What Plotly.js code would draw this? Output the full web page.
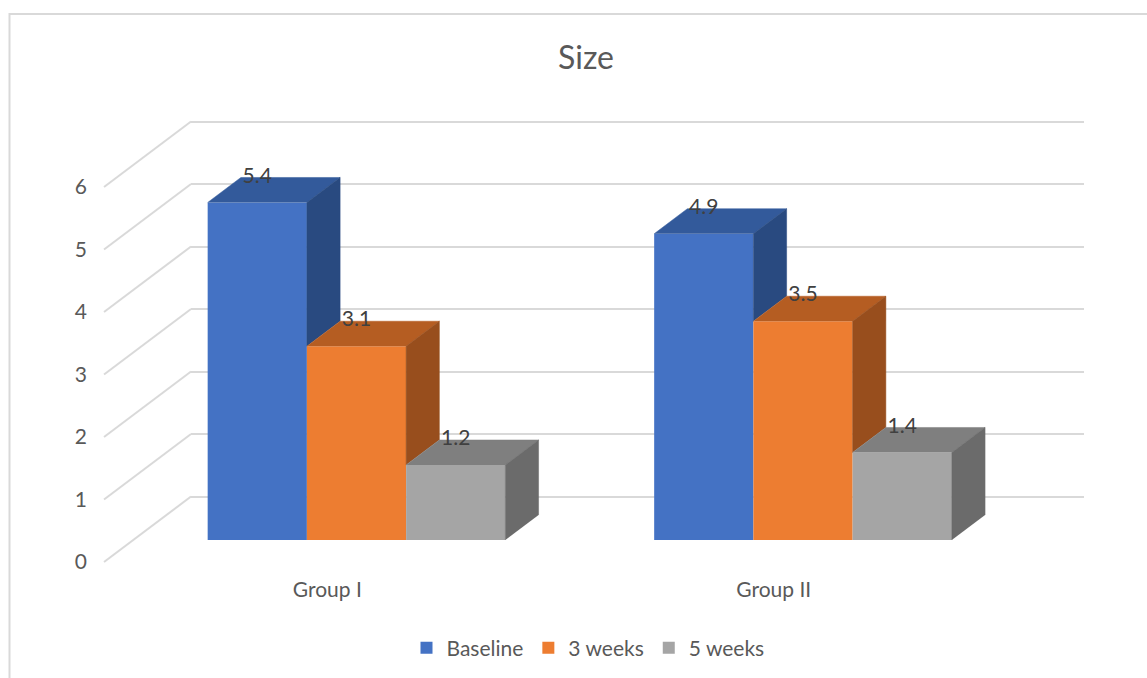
<!DOCTYPE html>
<html><head><meta charset="utf-8">
<script src="https://cdn.plot.ly/plotly-3.0.1.min.js"></script>
<style>html,body{margin:0;padding:0;background:#fff;}#chart{width:1147px;height:678px;}</style>
</head><body><div id="chart"></div>
<script>
// ---- data ----
const categories = ['Group I', 'Group II'];
const seriesNames = ['Baseline', '3 weeks', '5 weeks'];
const baseline = [5.4, 4.9];
const weeks3 = [3.1, 3.5];
const weeks5 = [1.2, 1.4];
const yTicks = [0, 1, 2, 3, 4, 5, 6];
const chartTitle = 'Size';

// ---- style ----
const series = [baseline, weeks3, weeks5];
const frontColors = ['#4472C4', '#ED7D31', '#A5A5A5'];
const topColors = ['#335A9B', '#B55D22', '#7F7F7F'];
const sideColors = ['#294A80', '#984E1D', '#6B6B6B'];
const FONT = 'Lato, "Open Sans", sans-serif';
const TXT = '#595959';

const W = 1147, H = 678;
// pseudo-3D geometry in pixels
const PX0 = 356.5, PXU = 446.5, PY0 = 540, PYU = 62.5;
const DDX = 87, DDY = 65.5, D0 = 0.336, D1 = 0.718;
const KX = DDX / PXU, KY = DDY / PYU;
const XMIN = -0.5, XMAX = categories.length - 0.5;
const BARGAP = 1 / 3;
const nS = series.length;
const barW = (1 - BARGAP) / nS;
function proj(X, Y, d) { return [X + (d - D0) * KX, Y + (d - D0) * KY]; }

// main (bar) plot box in pixels
const BL = 100, BR = 1090, BT = 110, BB = 570;
const x2range = [(BL - PX0) / PXU, (BR - PX0) / PXU];
const y2range = [(PY0 - BB) / PYU, (PY0 - BT) / PYU];
// back wall
const AL = PX0 + PXU * XMIN + (1 - D0) * DDX, AR = PX0 + PXU * XMAX + (1 - D0) * DDX;
const yBackRange = [y2range[0] - (1 - D0) * KY, y2range[1] - (1 - D0) * KY];
const xFrontRange = [(AL - PX0) / PXU + D0 * KX, (AR - PX0) / PXU + D0 * KX];
const yFrontRange = [y2range[0] + D0 * KY, y2range[1] + D0 * KY];

const idx = categories.map((_, i) => i);
const traces = [];

// dummy trace to anchor the back-wall axes
traces.push({x: [0], y: [0], xaxis: 'x', yaxis: 'y', mode: 'markers', marker: {opacity: 0}, showlegend: false, hoverinfo: 'skip'});

// front faces
series.forEach((vals, s) => {
  traces.push({type: 'bar', name: seriesNames[s], x: idx, y: vals, xaxis: 'x2', yaxis: 'y2',
    marker: {color: frontColors[s], line: {width: 0}}, hoverinfo: 'name+y'});
});

// left wall lines
const wx = [], wy = [];
yTicks.forEach(v => {
  const a = proj(XMIN, v, 0), b = proj(XMIN, v, 1);
  wx.push(a[0], b[0], null); wy.push(a[1], b[1], null);
});
traces.push({x: wx, y: wy, xaxis: 'x2', yaxis: 'y2', mode: 'lines', line: {color: '#D9D9D9', width: 2}, showlegend: false, hoverinfo: 'skip'});

// top and side faces
idx.forEach(c => {
  series.forEach((vals, s) => {
    const v = vals[c];
    const L = c - (1 - BARGAP) / 2 + s * barW, R = L + barW;
    const top = [proj(L, v, D0), proj(L, v, D1), proj(R, v, D1), proj(R, v, D0)];
    traces.push({x: top.map(p => p[0]), y: top.map(p => p[1]), xaxis: 'x2', yaxis: 'y2', mode: 'lines', fill: 'toself',
      fillcolor: topColors[s], line: {width: 0.5, color: topColors[s]}, showlegend: false, hoverinfo: 'skip'});
    const bot = s < nS - 1 ? Math.min(series[s + 1][c], v) : 0;
    const side = [proj(R, bot, D0), proj(R, v, D0), proj(R, v, D1), proj(R, bot, D1)];
    traces.push({x: side.map(p => p[0]), y: side.map(p => p[1]), xaxis: 'x2', yaxis: 'y2', mode: 'lines', fill: 'toself',
      fillcolor: sideColors[s], line: {width: 0.5, color: sideColors[s]}, showlegend: false, hoverinfo: 'skip'});
  });
});

// value labels
series.forEach((vals, s) => {
  const lx = [], ly = [], lt = [];
  idx.forEach(c => {
    const L = c - (1 - BARGAP) / 2 + s * barW;
    lx.push(L + barW / 2); ly.push(vals[c] + (D1 - D0) * KY); lt.push(String(vals[c]));
  });
  traces.push({x: lx, y: ly, text: lt, xaxis: 'x2', yaxis: 'y2', mode: 'text', textposition: 'middle center',
    textfont: {family: FONT, size: 21, color: '#404040'}, showlegend: false, hoverinfo: 'skip', cliponaxis: false});
});

traces.push({x: [0], y: [0], xaxis: 'x2', yaxis: 'y3', mode: 'markers', marker: {opacity: 0}, showlegend: false, hoverinfo: 'skip'});

const layout = {
  width: W, height: H, autosize: false,
  margin: {l: 0, r: 0, t: 0, b: 0},
  paper_bgcolor: '#ffffff', plot_bgcolor: 'rgba(0,0,0,0)',
  font: {family: FONT, color: TXT},
  title: {text: chartTitle, font: {family: FONT, size: 32, color: TXT}, x: 586 / W, xanchor: 'center', y: 1 - 57.5 / H, yanchor: 'middle'},
  barmode: 'group', bargap: BARGAP, bargroupgap: 0,
  showlegend: true,
  legend: {orientation: 'h', x: 588 / W, xanchor: 'center', y: 1 - 648 / H, yanchor: 'middle',
    font: {family: FONT, size: 21, color: TXT}, bgcolor: 'rgba(0,0,0,0)', traceorder: 'normal'},
  xaxis: {domain: [AL / W, AR / W], range: xFrontRange, anchor: 'y', tickvals: idx, ticktext: categories,
    showgrid: false, zeroline: false, showline: false, ticks: '', ticklabelstandoff: 5,
    tickfont: {family: FONT, size: 21, color: TXT}, fixedrange: true},
  yaxis: {domain: [1 - BB / H, 1 - BT / H], range: yBackRange, anchor: 'x', tickvals: yTicks, showticklabels: false,
    showgrid: true, gridcolor: '#D9D9D9', gridwidth: 2, zeroline: false, showline: false, ticks: '', fixedrange: true},
  xaxis2: {domain: [BL / W, BR / W], range: x2range, anchor: 'y2', visible: false, fixedrange: true},
  yaxis2: {domain: [1 - BB / H, 1 - BT / H], range: y2range, anchor: 'x2', visible: false, fixedrange: true},
  yaxis3: {overlaying: 'y2', anchor: 'x2', side: 'left', range: yFrontRange, tickvals: yTicks,
    showgrid: false, zeroline: false, showline: false, ticks: '', ticklabelstandoff: 12,
    tickfont: {family: FONT, size: 21, color: TXT}, fixedrange: true},
  shapes: [{type: 'rect', xref: 'paper', yref: 'paper', x0: 9.5 / W, x1: 1.02, y0: -0.02, y1: 1 - 14 / H,
    line: {color: '#D9D9D9', width: 2}, fillcolor: 'rgba(0,0,0,0)', layer: 'below'}]
};

Plotly.newPlot('chart', traces, layout, {displayModeBar: false, staticPlot: true});
</script></body></html>
